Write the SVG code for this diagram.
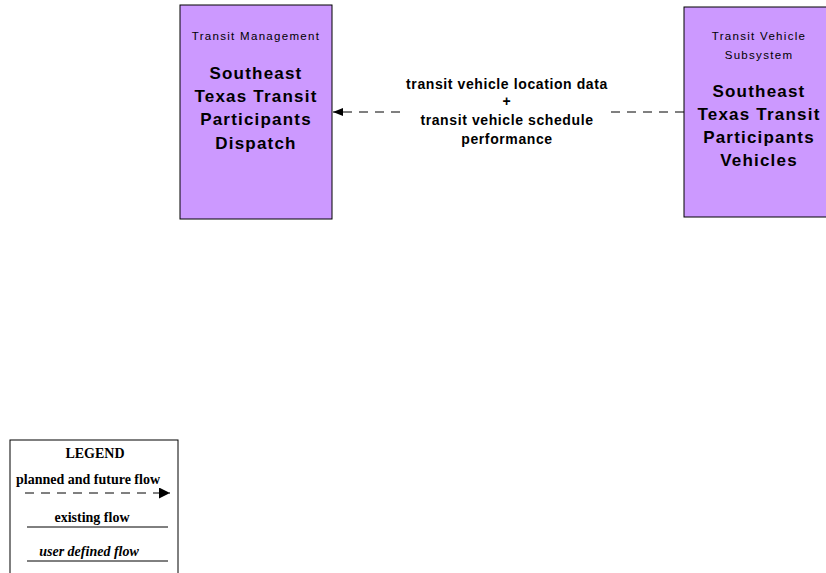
<svg xmlns="http://www.w3.org/2000/svg" width="826" height="573" viewBox="0 0 826 573">
<style>
.node{fill:#cc99ff;stroke:#000;stroke-width:1}
.cat{font-family:"Liberation Sans",Arial,sans-serif;font-size:11.5px;letter-spacing:1.3px;fill:#000;text-anchor:middle}
.title{font-family:"Liberation Sans",Arial,sans-serif;font-size:17px;letter-spacing:1.2px;font-weight:bold;fill:#000;text-anchor:middle}
.flow{font-family:"Liberation Sans",Arial,sans-serif;font-size:14px;letter-spacing:0.6px;font-weight:bold;fill:#000;text-anchor:middle}
.leg{font-family:"Liberation Serif","Times New Roman",serif;font-size:14px;font-weight:bold;fill:#000;text-anchor:middle}
.dash{stroke:#000;stroke-width:1;stroke-dasharray:9,7;fill:none}
.solid{stroke:#000;stroke-width:1;fill:none}
</style>
<defs>
<marker id="ah" viewBox="0 0 10 10" refX="10" refY="5" markerWidth="11" markerHeight="10" markerUnits="userSpaceOnUse" orient="auto">
<path d="M0,1 L10,5 L0,9 z" fill="#000"/>
</marker>
<marker id="ahl" viewBox="0 0 10 10" refX="10" refY="5" markerWidth="12" markerHeight="11" markerUnits="userSpaceOnUse" orient="auto">
<path d="M0,0 L10,5 L0,10 z" fill="#000"/>
</marker>
</defs>
<rect width="826" height="573" fill="#fff"/>
<g id="node-dispatch">
<rect class="node" x="180" y="5" width="152" height="214"/>
<text class="cat" x="256" y="40">Transit Management</text>
<text class="title" x="256" y="79">Southeast</text>
<text class="title" x="256" y="102">Texas Transit</text>
<text class="title" x="256" y="125">Participants</text>
<text class="title" x="256" y="149">Dispatch</text>
</g>
<g id="node-vehicles">
<rect class="node" x="684" y="7" width="150" height="210"/>
<text class="cat" x="759" y="40">Transit Vehicle</text>
<text class="cat" x="759" y="59">Subsystem</text>
<text class="title" x="759" y="97">Southeast</text>
<text class="title" x="759" y="120">Texas Transit</text>
<text class="title" x="759" y="143">Participants</text>
<text class="title" x="759" y="166">Vehicles</text>
</g>
<g id="connectors">
<line class="dash" x1="400" y1="112" x2="333" y2="112" marker-end="url(#ah)"/>
<line class="dash" x1="684" y1="112" x2="610" y2="112"/>
<text class="flow" x="507" y="89">transit vehicle location data</text>
<text class="flow" x="507" y="106">+</text>
<text class="flow" x="507" y="125">transit vehicle schedule</text>
<text class="flow" x="507" y="144">performance</text>
</g>
<g id="legend">
<rect x="10" y="440" width="168" height="140" fill="#fff" stroke="#000" stroke-width="1"/>
<text class="leg" x="95" y="458">LEGEND</text>
<text class="leg" x="88" y="484">planned and future flow</text>
<line class="dash" x1="25" y1="493" x2="170" y2="493" stroke-dasharray="5,4" marker-end="url(#ahl)"/>
<text class="leg" x="92" y="522">existing flow</text>
<line class="solid" x1="27" y1="527" x2="168" y2="527"/>
<text class="leg" x="89" y="556" font-style="italic">user defined flow</text>
<line class="solid" x1="27" y1="561" x2="168" y2="561"/>
</g>
</svg>
